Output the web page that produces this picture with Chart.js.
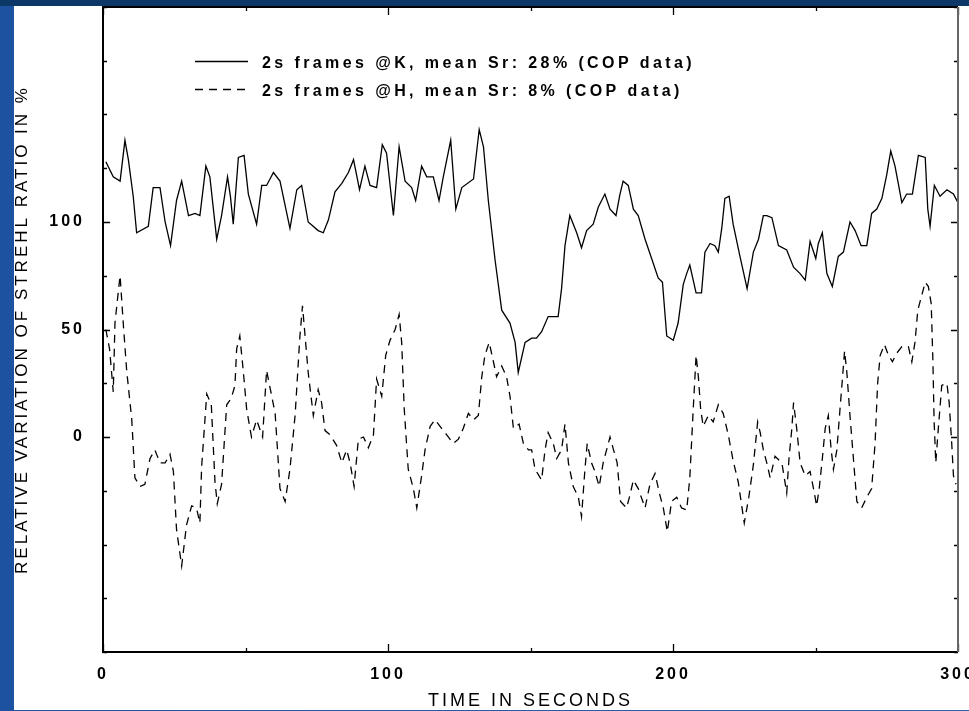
<!DOCTYPE html>
<html>
<head>
<meta charset="utf-8">
<script src="https://cdn.jsdelivr.net/npm/chart.js@4.4.1/dist/chart.umd.min.js"></script>
<style>
  html, body { margin: 0; padding: 0; }
  body {
    width: 969px; height: 711px; overflow: hidden;
    background: linear-gradient(180deg, #0b3867 0, #0b3867 6px, transparent 6px),
                linear-gradient(90deg, #1d52a0, #2a62ae);
  }
  #frame { position: absolute; left: 14px; top: 6px; width: 955px; height: 704px; background: #fff; }
</style>
</head>
<body>
<div id="frame"><canvas id="strehl"></canvas></div>
<script>
// 2s frames @K (solid)
const kTime = [
  1, 3.6, 6, 7.7, 8.9, 10.6, 11.8, 15.9, 17.6, 20,
  21.8, 23.7, 25.8, 27.6, 30, 32.3, 34, 36.1, 37.5, 39.9,
  41.6, 43.7, 44.7, 45.7, 47.5, 49.5, 51, 53.9, 55.7, 57.4,
  59.8, 62.1, 65.6, 68, 69.7, 72, 75.5, 77.3, 79.1, 81.4,
  83.8, 86.1, 87.9, 90, 91.9, 93.7, 96, 98, 99.5, 101.9,
  103.9, 106, 108.3, 109.7, 111.8, 113.6, 115.9, 117.9, 119.4, 122,
  123.8, 125.9, 130, 132, 133.5, 135.2, 137.6, 139.9, 142.8, 144.6,
  145.7, 148.1, 150.4, 152.1, 153.9, 156.2, 159.7, 160.9, 162.1, 163.8,
  166.2, 167.9, 169.7, 172, 173.8, 176.1, 177.9, 180, 181.4, 182.5,
  184.3, 186.1, 187.8, 190.2, 192.5, 194.8, 196.3, 197.8, 200.1, 201.8,
  203.6, 204.8, 205.9, 208.1, 210, 211.2, 213, 214.7, 215.9, 217.1,
  218.2, 219.7, 221.1, 223.5, 226, 228.2, 230, 231.7, 232.9, 234.7,
  237, 239.9, 242.3, 244.6, 246.4, 248.1, 250.1, 251, 252.4, 254,
  255.9, 258, 259.8, 262.1, 263.9, 266, 268, 269.7, 271.5, 273.3,
  275, 276.4, 277.9, 280.3, 282, 284, 286.1, 288.5, 289.4, 290.2,
  291.7, 293.7, 296.1, 298.4, 300
];
const kValues = [
  128, 121, 119, 138, 129, 112, 95, 98, 116, 116,
  100, 89, 110, 119, 103, 104, 103, 126, 121, 92,
  103, 121, 112, 99, 130, 131, 113, 99, 117, 117,
  123, 119, 97, 115, 117, 100, 96, 95, 101, 114,
  118, 123, 129, 115, 126, 117, 116, 136, 132, 103,
  135, 119, 116, 110, 126, 121, 121, 110, 121, 138,
  106, 116, 120, 143, 135, 110, 82, 59, 53, 44,
  30, 44, 46, 46, 49, 56, 56, 69, 89, 103,
  95, 88, 96, 99, 107, 113, 106, 103, 113, 119,
  117, 106, 103, 92, 83, 74, 72, 47, 45, 53,
  71, 76, 80, 67, 67, 86, 90, 89, 86, 97,
  111, 112, 99, 84, 69, 86, 92, 103, 103, 102,
  89, 87, 79, 76, 73, 91, 83, 90, 95, 76,
  70, 84, 86, 100, 96, 89, 89, 104, 106, 111,
  122, 133, 126, 109, 113, 113, 131, 130, 106, 98,
  117, 112, 115, 113, 109
];

// 2s frames @H (dashed)
const hTime = [
  1, 2.3, 3.6, 4.2, 5.4, 6, 7.1, 8.3, 10.1, 11.2,
  13, 14.7, 16.5, 18.2, 20, 21.8, 23.5, 24.7, 25.8, 27.6,
  29.3, 31.1, 32.8, 34, 34.6, 36.4, 38, 39.3, 40.1, 41.6,
  43.4, 45, 46.3, 46.9, 48, 49.2, 50.4, 52.1, 53.9, 56,
  57.4, 60.4, 62.1, 63.9, 65.6, 67.4, 69.1, 70, 72, 73.8,
  75.5, 76.7, 77.9, 79.7, 82, 83.8, 85.5, 86.7, 88.1, 89.6,
  91.4, 93.1, 94.9, 96, 97.8, 99.2, 100.7, 102.5, 103.9, 104.8,
  105.7, 107.1, 108.9, 110.1, 111.8, 113, 114.8, 116.5, 118.8, 120.6,
  122.9, 124.7, 126.4, 128.2, 130, 131.7, 132.9, 134, 135.5, 137,
  138.1, 139.9, 141.6, 142.8, 144, 146, 147.5, 149.3, 150.4, 151.6,
  153.9, 155.1, 156.2, 158, 159.2, 160.9, 162.1, 163.3, 165, 166.8,
  167.9, 169.1, 169.9, 171.4, 172.6, 174.1, 175.5, 176.7, 177.9, 180.4,
  181.6, 183.7, 184.9, 186.1, 187.8, 190.2, 191.9, 193.7, 195.2, 196.6,
  198, 199.5, 201.3, 203, 204.8, 205.9, 207.1, 208.1, 208.9, 209.7,
  210.6, 212.4, 214.1, 215.9, 217.6, 219.4, 221.1, 222.9, 225, 226.6,
  228.2, 229.7, 230.6, 231.7, 232.9, 234.1, 235.8, 238.2, 239.9, 240.7,
  241.7, 242.3, 243.4, 244.6, 246.4, 248.1, 249.3, 250.4, 251.3, 252.4,
  253.4, 254.5, 255.5, 256.3, 257.5, 258.6, 259.5, 260.2, 261, 262.1,
  263.3, 264.5, 266.2, 268, 269.7, 270.9, 271.8, 272.7, 274.2, 275.6,
  277, 278.5, 280.3, 282.6, 283.8, 284.9, 285.9, 287.1, 288.5, 289.6,
  290.6, 291.2, 291.6, 292.2, 293.1, 294.3, 296.1, 296.9, 297.8, 298.4,
  299.3
];
const hValues = [
  50, 41, 21, 53, 68, 75, 53, 31, 8, -19,
  -23, -22, -10, -6, -12, -12, -8, -16, -43, -60,
  -41, -32, -33, -40, -14, 20, 15, -21, -31, -22,
  15, 18, 24, 41, 47, 31, 13, 0, 8, 0,
  31, 11, -24, -30, -15, 10, 47, 61, 30, 10,
  22, 16, 3, 1, -4, -12, -6, -12, -23, -1,
  0, -5, 1, 27, 19, 38, 45, 50, 57, 44,
  13, -15, -24, -33, -18, -6, 5, 8, 4, 1,
  -3, -1, 4, 11, 8, 10, 28, 38, 44, 35,
  28, 33, 28, 19, 4, 6, -3, -6, -6, -15,
  -20, -6, 2, -3, -10, -6, 6, -12, -23, -28,
  -37, -15, -3, -12, -16, -23, -12, -6, 0, -12,
  -30, -33, -27, -20, -24, -33, -22, -17, -26, -33,
  -44, -30, -28, -33, -34, -19, 13, 38, 28, 13,
  5, 10, 7, 15, 11, 1, -11, -21, -40, -28,
  -13, 7, 2, -6, -12, -19, -9, -12, -26, -10,
  4, 16, 4, -12, -18, -16, -24, -32, -24, -10,
  4, 10, -6, -15, -6, 13, 28, 40, 30, 10,
  -10, -30, -33, -28, -24, -3, 25, 38, 43, 38,
  35, 39, 42, 42, 35, 44, 59, 65, 72, 70,
  62, 35, 8, -12, 4, 24, 25, 16, -3, -18,
  -22
];

const xLabels = [0, 100, 200, 300];
const yLabels = [0, 50, 100];

const FONT = 'Liberation Sans';

// wider letter spacing like the original slide text
const spacing = {
  id: 'spacing',
  beforeDraw(chart) { chart.ctx.letterSpacing = '3px'; }
};

// box around plot with inward ticks on all four sides
const frameTicks = {
  id: 'frameTicks',
  afterDatasetsDraw(chart) {
    const { ctx, chartArea: a, scales: { x, y } } = chart;
    ctx.save();
    ctx.strokeStyle = '#000';
    ctx.lineWidth = 1.3;
    ctx.beginPath();
    for (let t = 0; t <= 300; t += 50) {
      const px = Math.round(x.getPixelForValue(t)) + 0.5;
      const len = t % 100 === 0 ? 8 : 4;
      ctx.moveTo(px, a.bottom); ctx.lineTo(px, a.bottom - len);
      ctx.moveTo(px, a.top); ctx.lineTo(px, a.top + len);
    }
    for (let v = -100; v <= 200; v += 25) {
      const py = Math.round(y.getPixelForValue(v)) + 0.5;
      const len = yLabels.includes(v) ? 7 : 4;
      ctx.moveTo(a.left, py); ctx.lineTo(a.left + len, py);
      ctx.moveTo(a.right, py); ctx.lineTo(a.right - len, py);
    }
    ctx.stroke();
    ctx.lineWidth = 2;
    ctx.beginPath();
    ctx.moveTo(a.right, a.bottom); ctx.lineTo(a.left, a.bottom);
    ctx.lineTo(a.left, a.top); ctx.lineTo(a.right, a.top);
    ctx.stroke();
    ctx.strokeStyle = '#666';
    ctx.beginPath();
    ctx.moveTo(a.right, a.top); ctx.lineTo(a.right, a.bottom);
    ctx.stroke();
    ctx.restore();
  }
};

// legend inside the plot, line sample then label
const keyLegend = {
  id: 'keyLegend',
  afterDatasetsDraw(chart) {
    const { ctx, chartArea: a } = chart;
    ctx.save();
    ctx.font = 'bold 16px "' + FONT + '"';
    ctx.letterSpacing = '3.4px';
    ctx.textBaseline = 'middle';
    chart.data.datasets.forEach((ds, i) => {
      const ly = Math.round(a.top + 54 + i * 28) + 0.5;
      ctx.beginPath();
      ctx.setLineDash(ds.borderDash || []);
      ctx.lineWidth = 1.3;
      ctx.strokeStyle = ds.borderColor;
      ctx.moveTo(a.left + 92, ly);
      ctx.lineTo(a.left + 145, ly);
      ctx.stroke();
      ctx.setLineDash([]);
      ctx.fillStyle = '#000';
      ctx.fillText(ds.label, a.left + 159, ly + 2);
    });
    ctx.restore();
  }
};

new Chart(document.getElementById('strehl'), {
  type: 'line',
  data: {
    datasets: [{
      label: '2s frames @K, mean Sr: 28% (COP data)',
      data: kTime.map((t, i) => ({ x: t, y: kValues[i] })),
      borderColor: '#000',
      borderWidth: 1.3,
      pointRadius: 0,
      tension: 0
    }, {
      label: '2s frames @H, mean Sr: 8% (COP data)',
      data: hTime.map((t, i) => ({ x: t, y: hValues[i] })),
      borderColor: '#000',
      borderWidth: 1.3,
      borderDash: [8, 6],
      pointRadius: 0,
      tension: 0
    }]
  },
  options: {
    responsive: true,
    maintainAspectRatio: false,
    animation: false,
    layout: { padding: { top: 1, right: 11, left: 0, bottom: 0 } },
    plugins: { legend: { display: false }, tooltip: { enabled: false } },
    scales: {
      x: {
        type: 'linear', min: 0, max: 300,
        grid: { display: false },
        border: { display: false },
        ticks: {
          stepSize: 50, autoSkip: false, maxRotation: 0, padding: 5,
          color: '#000', font: { family: FONT, size: 16, weight: 'bold' },
          callback: v => xLabels.includes(v) ? String(v) : ''
        },
        title: {
          display: true, text: 'TIME IN SECONDS', color: '#000',
          font: { family: FONT, size: 18, lineHeight: 1 }, padding: { top: 0, bottom: 0 }
        },
        afterFit(s) { s.height = 58; s.paddingLeft = 0; s.paddingRight = 0; }
      },
      y: {
        min: -100, max: 200,
        grid: { display: false },
        border: { display: false },
        ticks: {
          stepSize: 25, autoSkip: false, padding: 10,
          color: '#000', font: { family: FONT, size: 16, weight: 'bold' },
          callback: v => yLabels.includes(v) ? String(v) : ''
        },
        title: {
          display: true, text: 'RELATIVE VARIATION OF STREHL RATIO IN %', color: '#000',
          font: { family: FONT, size: 17, lineHeight: 1 }, padding: { top: 0, bottom: 0 }
        },
        afterFit(s) { s.width = 89; s.paddingTop = 0; s.paddingBottom = 0; }
      }
    }
  },
  plugins: [spacing, frameTicks, keyLegend]
});
</script>
</body>
</html>
